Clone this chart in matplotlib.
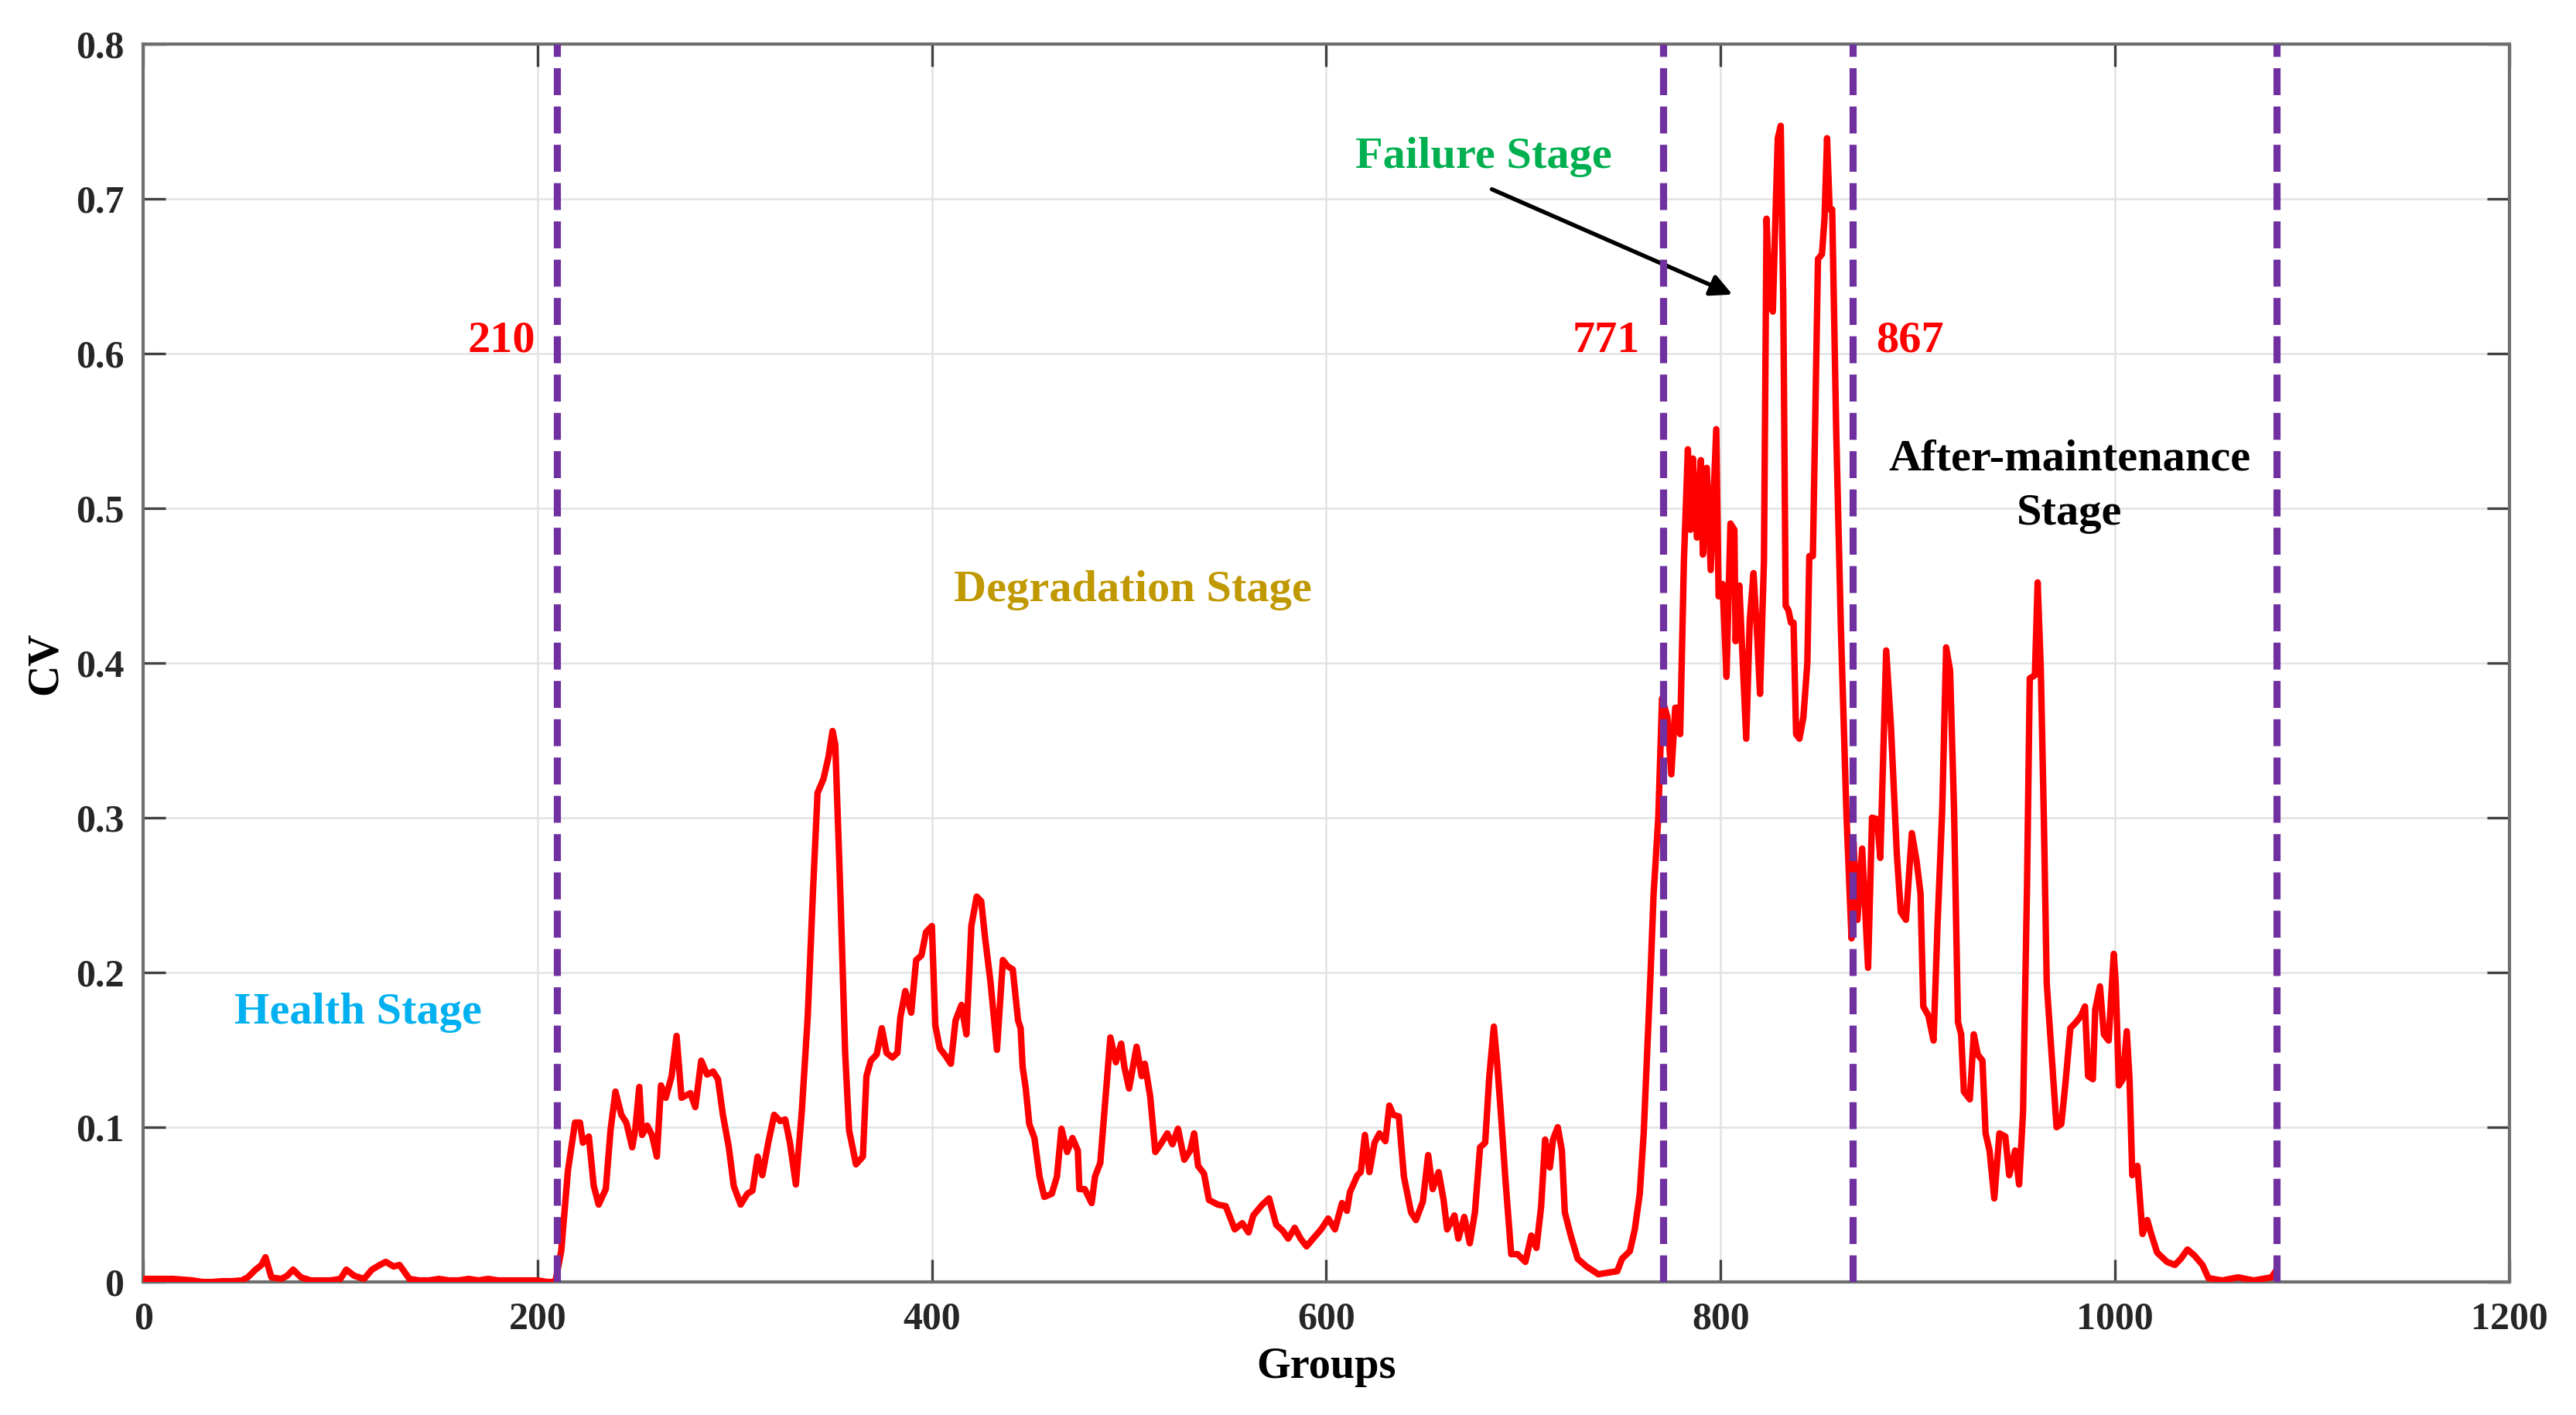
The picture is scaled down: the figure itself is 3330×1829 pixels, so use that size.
import matplotlib
matplotlib.use('Agg')
import matplotlib.pyplot as plt

plt.rcParams['font.family'] = ['Liberation Serif', 'DejaVu Serif']
plt.rcParams['font.weight'] = 'bold'

# CV values per group
groups = [0, 5, 10, 15, 20, 25, 30, 35, 40, 45, 50, 53, 57, 60, 62, 65, 70, 73, 76, 80,
          85, 90, 95, 100, 103, 107, 112, 116, 120, 123, 127, 130, 135, 140, 145, 150, 155,
          160, 165, 170, 175, 180, 185, 190, 195, 200, 205, 209,
          212, 215.4, 219, 221.5, 223, 226, 228.5, 231, 234.6, 237, 239.5, 242.5, 245, 248,
          249.5, 251.6, 253, 255.6, 258, 260.5, 262.6, 265, 268, 270.5, 273, 277.5, 280, 283,
          286, 289, 291.5, 294, 297, 299.5, 303, 306.4, 309, 311.6, 314, 317, 320, 323, 325.6,
          328, 331, 334, 337, 339.6, 342, 345, 347.5, 349.6, 351, 353.6, 356, 358, 361.5, 365,
          366.8, 369, 372, 374.6, 377, 380, 382.5, 384, 386.5, 389.5, 392, 394.7, 397, 400,
          401.7, 404, 407, 409.6, 412, 415, 417.5, 420, 422.7, 425, 427, 429.7, 433, 436,
          438.4, 441, 443.7,
          445, 446, 447.6, 449.4, 452, 454.6, 457, 460.8, 463.4, 465.7, 468.6, 471.3, 474,
          474.8, 477.5, 481, 482.7, 485.4, 488, 490.5, 493.3, 496, 497.6, 500, 503.8, 506.4,
          508, 510.7, 513.3, 516, 519.4, 522, 524.8, 528, 531, 533, 535, 538, 540.5, 545, 549,
          553.6, 557.4, 560.6, 563, 567.6, 571, 574.6, 578, 580.7, 584, 587, 590, 594, 597.4,
          601, 604.4, 608, 610.5, 612, 615.8, 617.5, 619.6, 621.9, 624.5, 627, 630, 632, 634,
          636.8, 639.4, 643, 645.5, 649, 651.7, 654, 657, 659.5, 661.3, 665, 667, 670, 672.8,
          675.4, 678, 680.6, 682.7, 685, 686.7, 688.5, 691,
          693.8, 697, 701, 704, 706.6, 709, 711, 713.4, 715, 717.4, 719.5, 721, 724, 727.5,
          732, 738, 747.6, 750, 754, 756.5, 759, 761, 762.7, 764.5, 766,
          768.4, 770.3, 773, 775, 777, 778, 779.5, 781.4, 783.4, 784.7, 786, 788, 790, 791,
          793, 795, 797.8, 799, 801, 803, 805, 807, 807.6, 809.5, 811, 813, 814.8, 816.7,
          818.7, 820, 822, 823.3, 825, 826.5, 827.8, 829, 830.5, 831.8, 833, 834.4, 835.7,
          837, 838.3, 840, 842, 844, 845, 846.8, 849.4, 851.4, 852.7, 854, 855.3, 856.6,
          858.6, 861, 863.8,
          866.4, 867.4, 869.4, 871.8, 874.8, 876.8, 879.4, 881, 884, 886.4, 889.4, 891.4,
          894, 897, 899.4, 901.4, 902.8, 905.4, 908, 910, 912.4, 914.4, 916.4, 918.4, 920.4,
          922, 923.4, 926.4, 928.4, 930.4, 932.8, 934.4, 936.4, 938.8, 941.4, 944.4, 946.4,
          949.4, 951.4, 953.4, 955.4, 956.8, 959.4, 960.8, 962.4, 964, 965.4, 967.4, 970.4,
          972.8, 974.8, 977.4, 980.4, 982.8, 984.8, 986.4, 988.8, 990, 992.4, 994.4, 996.8,
          999.4, 1000.4, 1002, 1004, 1006, 1007.4, 1008.8, 1011.4, 1014, 1016.4, 1018.4,
          1021.4, 1026.4, 1030.4, 1033.4, 1036.8, 1040.4, 1044.4, 1047.4, 1054.4, 1062.4,
          1070.4, 1079.4, 1081]
cv = [0.002, 0.002, 0.002, 0.002, 0.0015, 0.001, 0.0, 0.0, 0.0005, 0.0005, 0.001, 0.003,
      0.008, 0.011, 0.016, 0.003, 0.002, 0.004, 0.008, 0.003, 0.001, 0.001, 0.001, 0.002,
      0.008, 0.004, 0.002, 0.008, 0.011, 0.013, 0.01, 0.011, 0.002, 0.001, 0.001, 0.002,
      0.001, 0.001, 0.002, 0.001, 0.002, 0.001, 0.001, 0.001, 0.001, 0.001, 0.0, 0.0,
      0.02, 0.072, 0.103, 0.103, 0.09, 0.094, 0.062, 0.05, 0.06, 0.098, 0.123, 0.108, 0.103,
      0.087, 0.098, 0.126, 0.095, 0.101, 0.095, 0.081, 0.127, 0.119, 0.133, 0.159, 0.119,
      0.122, 0.113, 0.143, 0.134, 0.136, 0.131, 0.108, 0.087, 0.062, 0.05, 0.057, 0.059,
      0.081, 0.069, 0.09, 0.108, 0.104, 0.105, 0.09, 0.063, 0.11, 0.171, 0.25, 0.316, 0.325,
      0.339, 0.356, 0.347, 0.25, 0.148, 0.098, 0.076, 0.081, 0.133, 0.143, 0.147, 0.164,
      0.148, 0.145, 0.148, 0.171, 0.188, 0.174, 0.208, 0.211, 0.226, 0.23, 0.166, 0.151,
      0.146, 0.141, 0.169, 0.179, 0.16, 0.23, 0.249, 0.246, 0.222, 0.194, 0.15, 0.208,
      0.204, 0.202, 0.169,
      0.164, 0.139, 0.125, 0.102, 0.093, 0.068, 0.055, 0.057, 0.068, 0.099, 0.084, 0.093,
      0.085, 0.06, 0.06, 0.051, 0.068, 0.077, 0.118, 0.158, 0.142, 0.154, 0.139, 0.125,
      0.152, 0.133, 0.141, 0.12, 0.084, 0.089, 0.096, 0.089, 0.099, 0.079, 0.085, 0.096,
      0.075, 0.07, 0.053, 0.05, 0.049, 0.034, 0.038, 0.032, 0.043, 0.05, 0.054, 0.037,
      0.033, 0.028, 0.035, 0.028, 0.023, 0.029, 0.034, 0.041, 0.034, 0.051, 0.046, 0.058,
      0.069, 0.071, 0.095, 0.071, 0.09, 0.096, 0.091, 0.114, 0.108, 0.107, 0.068, 0.045,
      0.04, 0.052, 0.082, 0.06, 0.071, 0.053, 0.034, 0.043, 0.028, 0.042, 0.025, 0.045,
      0.087, 0.09, 0.133, 0.165, 0.141, 0.11, 0.064,
      0.018, 0.018, 0.013, 0.03, 0.022, 0.049, 0.092, 0.074, 0.092, 0.1, 0.085, 0.045,
      0.03, 0.015, 0.01, 0.005, 0.007, 0.015, 0.02, 0.034, 0.057, 0.096, 0.146, 0.2, 0.25,
      0.30, 0.377, 0.365, 0.328, 0.371, 0.371, 0.354, 0.466, 0.538, 0.486, 0.532, 0.481,
      0.531, 0.47, 0.526, 0.46, 0.551, 0.443, 0.451, 0.391, 0.49, 0.486, 0.414, 0.45,
      0.408, 0.351, 0.428, 0.458, 0.414, 0.38, 0.466, 0.687, 0.632, 0.627, 0.687, 0.739,
      0.747, 0.632, 0.437, 0.434, 0.426, 0.426, 0.354, 0.351, 0.365, 0.4, 0.469, 0.469,
      0.661, 0.664, 0.687, 0.739, 0.693, 0.693, 0.552, 0.423, 0.303,
      0.222, 0.284, 0.234, 0.28, 0.203, 0.30, 0.299, 0.274, 0.408, 0.359, 0.276, 0.239,
      0.234, 0.29, 0.272, 0.251, 0.178, 0.172, 0.156, 0.23, 0.305, 0.41, 0.395, 0.305,
      0.168, 0.16, 0.123, 0.118, 0.16, 0.147, 0.143, 0.096, 0.085, 0.054, 0.096, 0.094,
      0.069, 0.085, 0.063, 0.11, 0.255, 0.39, 0.392, 0.452, 0.396, 0.296, 0.193, 0.156,
      0.1, 0.102, 0.127, 0.164, 0.168, 0.172, 0.178, 0.133, 0.131, 0.176, 0.191, 0.16,
      0.156, 0.212, 0.193, 0.127, 0.131, 0.162, 0.131, 0.069, 0.075, 0.031, 0.04, 0.031,
      0.019, 0.013, 0.011, 0.015, 0.021, 0.017, 0.011, 0.0025, 0.001, 0.003, 0.001, 0.003,
      0.006]

stage_bounds = [210, 771, 867, 1082]
bound_labels = ['210', '771', '867']

fig = plt.figure(figsize=(11.1, 6.097), dpi=300)
ax = fig.add_axes([0.0556, 0.094, 0.9185, 0.875])

ax.grid(True, color='#e3e3e3', linewidth=0.6)
ax.set_axisbelow(True)

ax.plot(groups, cv, color='#ff0000', linewidth=2.0, zorder=3)
for b in stage_bounds:
    ax.axvline(b, color='#7030a0', linewidth=2.2, dashes=(3.8, 1.6), zorder=4)

ax.set_xlim(0, 1200)
ax.set_ylim(0, 0.8)
ax.set_xticks([0, 200, 400, 600, 800, 1000, 1200])
ax.set_yticks([0, 0.1, 0.2, 0.3, 0.4, 0.5, 0.6, 0.7, 0.8])
ax.set_yticklabels(['0', '0.1', '0.2', '0.3', '0.4', '0.5', '0.6', '0.7', '0.8'])
ax.tick_params(direction='in', length=7, width=0.8, color='#404040',
               top=True, right=True, labelsize=12, labelcolor='#262626', pad=6)
for sp in ax.spines.values():
    sp.set_color('#6e6e6e')
    sp.set_linewidth(1.0)

ax.set_xlabel('Groups', fontsize=13.5, fontweight='bold', labelpad=3)
ax.set_ylabel('CV', fontsize=13.5, fontweight='bold', labelpad=3)

# boundary numbers
ax.text(199, 0.608, bound_labels[0], color='#ff0000', fontsize=14, fontweight='bold',
        ha='right', va='center')
ax.text(759, 0.608, bound_labels[1], color='#ff0000', fontsize=14, fontweight='bold',
        ha='right', va='center')
ax.text(879, 0.608, bound_labels[2], color='#ff0000', fontsize=14, fontweight='bold',
        ha='left', va='center')

# stage names
ax.text(109, 0.174, 'Health Stage', color='#00b0f0', fontsize=14, fontweight='bold',
        ha='center', va='center')
ax.text(502, 0.447, 'Degradation Stage', color='#c09800', fontsize=14, fontweight='bold',
        ha='center', va='center')
ax.text(680, 0.727, 'Failure Stage', color='#00b050', fontsize=14, fontweight='bold',
        ha='center', va='center')
ax.text(977, 0.514, 'After-maintenance\nStage', color='black', fontsize=14,
        fontweight='bold', ha='center', va='center', linespacing=1.45)
ax.annotate('', xy=(806, 0.638), xytext=(684, 0.706),
            arrowprops=dict(arrowstyle='-|>', color='black', lw=1.3,
                            mutation_scale=14, shrinkA=0, shrinkB=0))

fig.savefig('out.png', dpi=300)
